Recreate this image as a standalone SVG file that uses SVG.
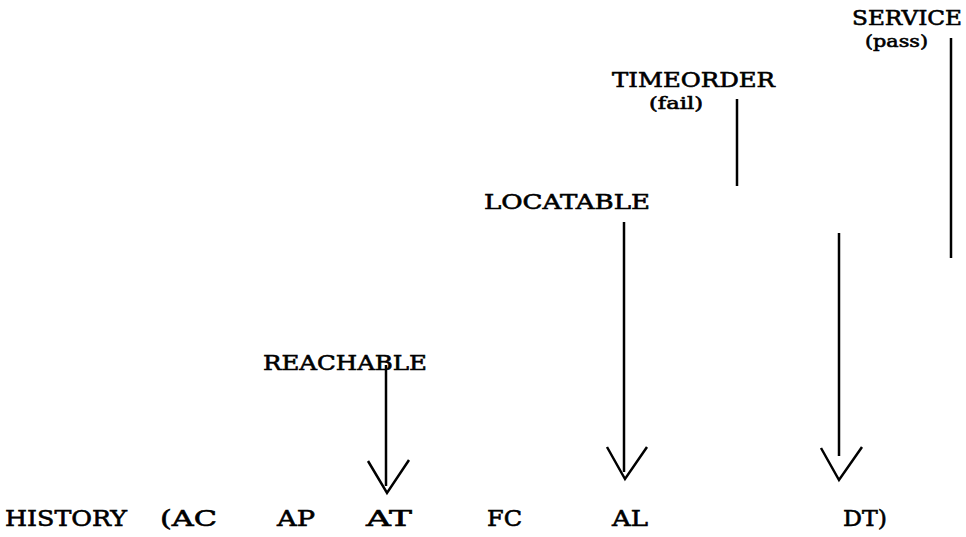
<svg xmlns="http://www.w3.org/2000/svg" width="966" height="537" viewBox="0 0 966 537">
<style>
text{font-family:"DejaVu Serif","Liberation Serif",serif;fill:#000;stroke:#000;stroke-width:0.6;}
.lbl{font-size:21px;}
.sub{font-size:17px;}
.hist{font-size:23px;}
.ln{stroke:#000;stroke-width:2.5;fill:none;stroke-linecap:butt;}
.hd{stroke:#000;stroke-width:2.5;fill:none;stroke-linejoin:miter;}
</style>
<rect width="966" height="537" fill="#fff"/>
<g id="service">
<text class="lbl" x="852" y="25" textLength="110" lengthAdjust="spacingAndGlyphs">SERVICE</text>
<text class="sub" x="865" y="47" textLength="63" lengthAdjust="spacingAndGlyphs">(pass)</text>
</g>
<g id="timeorder">
<text class="lbl" x="612" y="87" textLength="163" lengthAdjust="spacingAndGlyphs">TIMEORDER</text>
<text class="sub" x="649" y="109" textLength="54" lengthAdjust="spacingAndGlyphs">(fail)</text>
</g>
<g id="locatable">
<text class="lbl" x="484" y="209" textLength="166" lengthAdjust="spacingAndGlyphs">LOCATABLE</text>
</g>
<g id="reachable">
<text class="lbl" x="263" y="370" textLength="164" lengthAdjust="spacingAndGlyphs">REACHABLE</text>
</g>
<g id="history">
<text class="hist" x="5" y="526" textLength="122" lengthAdjust="spacingAndGlyphs">HISTORY</text>
<text class="hist" x="160" y="526" textLength="57" lengthAdjust="spacingAndGlyphs">(AC</text>
<text class="hist" x="277" y="526" textLength="38" lengthAdjust="spacingAndGlyphs">AP</text>
<text class="hist" x="366" y="526" textLength="46" lengthAdjust="spacingAndGlyphs">AT</text>
<text class="hist" x="487" y="526" textLength="35" lengthAdjust="spacingAndGlyphs">FC</text>
<text class="hist" x="612" y="526" textLength="36" lengthAdjust="spacingAndGlyphs">AL</text>
<text class="hist" x="843" y="526" textLength="44" lengthAdjust="spacingAndGlyphs">DT)</text>
</g>
<g id="connectors">
<line class="ln" x1="951" y1="38" x2="951" y2="258"/>
<line class="ln" x1="737" y1="99" x2="737" y2="186"/>
<line class="ln" x1="624" y1="222" x2="624" y2="472"/>
<polyline class="hd" points="607,447 625,479 647,447"/>
<line class="ln" x1="839" y1="233" x2="839" y2="456"/>
<polyline class="hd" points="821,448 839,480 862,447"/>
<line class="ln" x1="386" y1="365" x2="386" y2="486"/>
<polyline class="hd" points="368,461 387,493 409,460"/>
</g>
</svg>
